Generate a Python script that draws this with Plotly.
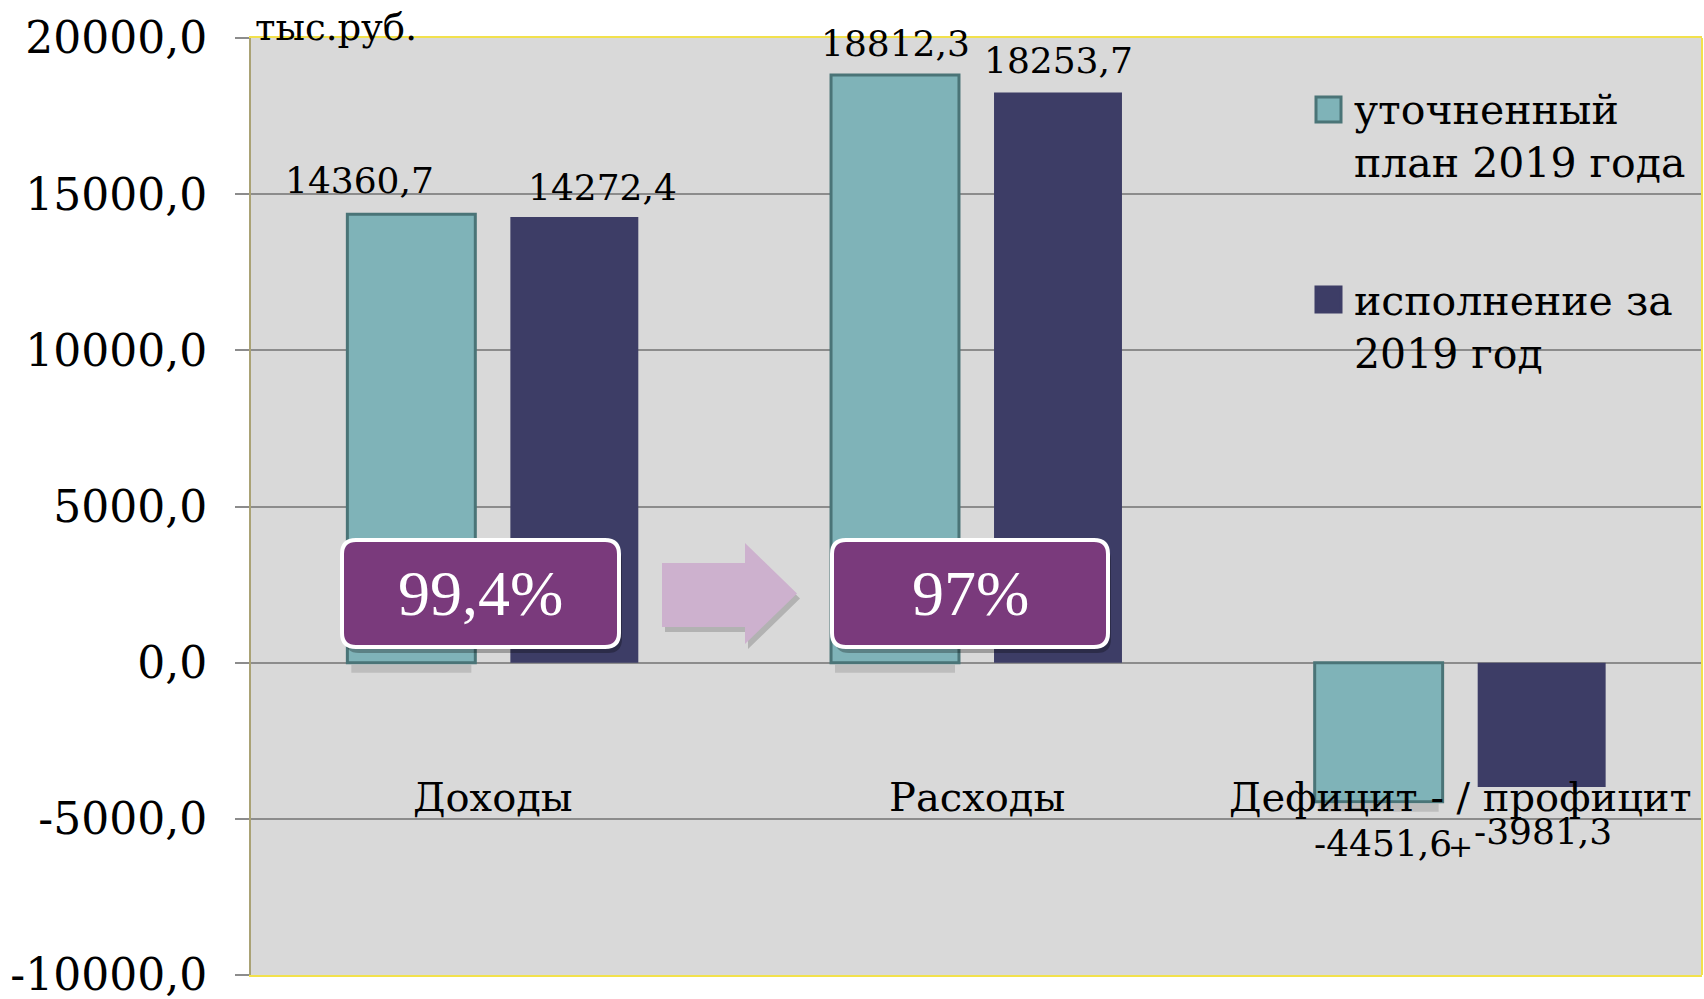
import plotly.graph_objects as go

# ---------------- data ----------------
categories = ["Доходы", "Расходы", "Дефицит - / профицит"]
series_names = ["уточненный<br>план 2019 года", "исполнение за<br>2019 год"]
plan_values = [14360.7, 18812.3, -4451.6]
fact_values = [14272.4, 18253.7, -3981.3]
plan_labels = ["14360,7", "18812,3", "-4451,6"]
fact_labels = ["14272,4", "18253,7", "-3981,3"]
tick_values = [-10000, -5000, 0, 5000, 10000, 15000, 20000]
tick_labels = ["-10000,0", "-5000,0", "0,0", "5000,0", "10000,0", "15000,0", "20000,0"]
percent_labels = ["99,4%", "97%"]
unit_label = "тыс.руб."

# ---------------- style ----------------
W, H = 1704, 999
ML, MR, MT, MB = 251, 2, 38, 24
PW, PH = W - ML - MR, H - MT - MB

TEAL = "#7fb3b8"
TEAL_EDGE = "#4a7477"
NAVY = "#3d3d66"
PURPLE = "#7a3a7c"
ARROW = "#cdb1ce"
SERIF = "DejaVu Serif"
TIMES = "Liberation Serif"


def px(X):
    return (X - ML) / PW


def py(Y):
    return (H - MB - Y) / PH


fig = go.Figure()
fig.add_trace(go.Bar(
    x=categories, y=plan_values, name=series_names[0],
    marker=dict(color=TEAL, line=dict(color=TEAL_EDGE, width=3)),
    showlegend=False,
))
fig.add_trace(go.Bar(
    x=categories, y=fact_values, name=series_names[1],
    marker=dict(color=NAVY, line=dict(width=0)),
    showlegend=False,
))

annotations = []
shapes = []

# data labels
bar_offset = 81.5
plan_adj = [(-52, 34), (0, 32), (4, -42)]
fact_adj = [(28, 29), (0, 32), (1, -44)]
for j, cat in enumerate(categories):
    for vals, labs, sign, adj in ((plan_values, plan_labels, -1, plan_adj),
                                  (fact_values, fact_labels, 1, fact_adj)):
        dx, dy = adj[j]
        annotations.append(dict(
            x=cat, y=vals[j], xref="x", yref="y", text=labs[j], showarrow=False,
            xanchor="center", yanchor="middle",
            xshift=sign * bar_offset + dx, yshift=dy,
            font=dict(family=SERIF, size=36, color="black"),
        ))

# stray plus sign near the deficit labels
annotations.append(dict(x=categories[2], y=0, xref="x", yref="y", text="+", showarrow=False,
                        xshift=0, yshift=-184, font=dict(family=SERIF, size=30, color="black")))

# category labels inside plot
for cat in categories:
    annotations.append(dict(
        x=cat, y=0, xref="x", yref="y", text=cat, showarrow=False,
        xanchor="center", yanchor="middle", yshift=-134,
        font=dict(family=SERIF, size=40, color="black"),
    ))

# unit label
annotations.append(dict(x=0, y=1, xref="paper", yref="paper", text=unit_label, showarrow=False,
                        xanchor="left", yanchor="bottom", xshift=2, yshift=-13,
                        font=dict(family=SERIF, size=37, color="black")))

# manual legend
leg_items = [(series_names[0], TEAL, TEAL_EDGE, 97, 136.5), (series_names[1], NAVY, NAVY, 287, 327.5)]
for name, fill, edge, ytop, ytext in leg_items:
    shapes.append(dict(type="rect", xref="paper", yref="paper",
                       x0=px(1316), x1=px(1341), y0=py(ytop + 25), y1=py(ytop),
                       fillcolor=fill, line=dict(color=edge, width=3), layer="above"))
    annotations.append(dict(x=px(1352), y=py(ytext), xref="paper", yref="paper", text=name,
                            showarrow=False, xanchor="left", yanchor="middle", align="left",
                            font=dict(family=SERIF, size=41, color="black")))


def rounded_rect(X0, Y0, X1, Y1, r):
    x0, x1 = px(X0), px(X1)
    y0, y1 = py(Y1), py(Y0)  # y0 bottom, y1 top in paper
    rx, ry = r / PW, r / PH
    return (f"M{x0+rx},{y1} L{x1-rx},{y1} Q{x1},{y1} {x1},{y1-ry} "
            f"L{x1},{y0+ry} Q{x1},{y0} {x1-rx},{y0} L{x0+rx},{y0} "
            f"Q{x0},{y0} {x0},{y0+ry} L{x0},{y1-ry} Q{x0},{y1} {x0+rx},{y1} Z")


# soft shadows under the plan bars (decoration)
for cat_idx, v in enumerate(plan_values):
    cx = ML + PW * (cat_idx + 0.5) / len(categories) - bar_offset
    base = 662.7 + max(0.0, -v) * PH / 30000.0
    shapes.append(dict(type="rect", xref="paper", yref="paper",
                       x0=px(cx - 60), x1=px(cx + 60), y0=py(base + 10), y1=py(base + 2),
                       fillcolor="rgba(0,0,0,0.13)", line=dict(width=0), layer="below"))

boxes = [(342, 540, 619, 647), (832, 540, 1108, 647)]
for (X0, Y0, X1, Y1), lab in zip(boxes, percent_labels):
    shapes.append(dict(type="path", xref="paper", yref="paper",
                       path=rounded_rect(X0 + 3, Y0 + 6, X1 + 3, Y1 + 6, 14),
                       fillcolor="rgba(0,0,0,0.28)", line=dict(width=0), layer="above"))
    shapes.append(dict(type="path", xref="paper", yref="paper",
                       path=rounded_rect(X0, Y0, X1, Y1, 14),
                       fillcolor=PURPLE, line=dict(color="white", width=4), layer="above"))
    annotations.append(dict(x=px((X0 + X1) / 2), y=py((Y0 + Y1) / 2), xref="paper", yref="paper",
                            text=lab, showarrow=False, xanchor="center", yanchor="middle",
                            font=dict(family=TIMES, size=64, color="white")))

# arrow
arrow_pts = [(662, 563), (745, 563), (745, 543), (797, 593.5), (745, 644), (745, 627), (662, 627)]
shadow_path = "M" + " L".join(f"{px(X+3)},{py(Y+5)}" for X, Y in arrow_pts) + " Z"
arrow_path = "M" + " L".join(f"{px(X)},{py(Y)}" for X, Y in arrow_pts) + " Z"
shapes.append(dict(type="path", xref="paper", yref="paper", path=shadow_path,
                   fillcolor="rgba(0,0,0,0.18)", line=dict(width=0), layer="above"))
shapes.append(dict(type="path", xref="paper", yref="paper", path=arrow_path,
                   fillcolor=ARROW, line=dict(width=0), layer="above"))

# right border
shapes.append(dict(type="line", xref="paper", yref="paper", x0=1, x1=1, y0=0, y1=1,
                   line=dict(color="#f2e14c", width=2)))

fig.update_layout(
    width=W, height=H,
    margin=dict(l=ML, r=MR, t=MT, b=MB, autoexpand=False),
    paper_bgcolor="white", plot_bgcolor="#d9d9d9",
    barmode="group", bargap=0.326, bargroupgap=0.215,
    annotations=annotations, shapes=shapes,
    showlegend=False,
)
fig.update_xaxes(showticklabels=False, showgrid=False, ticks="", automargin=False,
                 showline=True, mirror=True, linecolor="#f2e14c", linewidth=2,
                 range=[-0.5, 2.5])
fig.update_yaxes(range=[-10000, 20000], tickvals=tick_values, ticktext=tick_labels,
                 showgrid=True, gridcolor="#8c8c8c", gridwidth=2, zeroline=False,
                 ticks="outside", ticklen=14, tickcolor="#8c8c8c", tickwidth=2,
                 ticklabelstandoff=19, ticklabeloverflow="allow", automargin=False,
                 showline=True, linecolor="#aaa275", linewidth=2,
                 tickfont=dict(family=SERIF, size=44, color="black"))

fig.write_html("out.html", config={"displayModeBar": False},
               post_script="document.body.style.margin='0';document.body.style.overflow='hidden';")
